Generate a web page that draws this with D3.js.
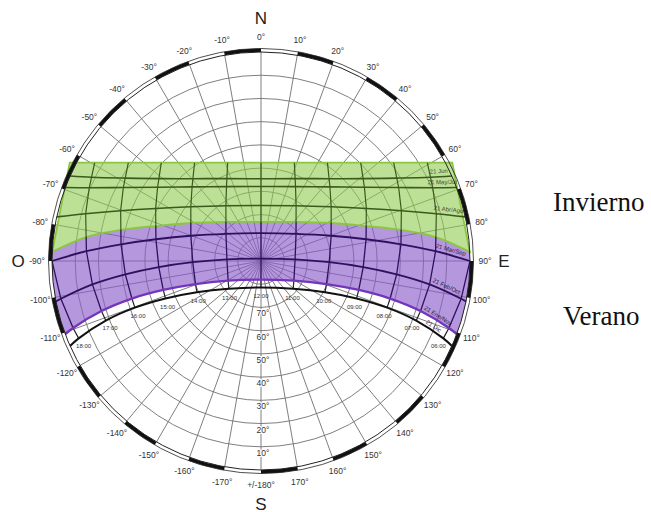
<!DOCTYPE html>
<html>
<head>
<meta charset="utf-8">
<script src="https://cdn.jsdelivr.net/npm/d3@7"></script>
<style>
  html, body { margin: 0; background: #fff; }
  svg { display: block; }
</style>
</head>
<body>
<svg id="chart" width="651" height="512"></svg>
<script>
// ---- data -------------------------------------------------------------
const hours = ["06:00","07:00","08:00","09:00","10:00","11:00","12:00",
               "13:00","14:00","15:00","16:00","17:00","18:00"];
const dateLabels = ["21 Jun","21 May/Jul","21 Abr/Ago","21 Mar/Sep",
                    "21 Feb/Oct","21 Ene/Nov","21 Dic"];

// Sun azimuth (deg from N, + towards E) and altitude (deg) at each hour; null = below horizon
const azJun   = [null, 63.7, 58.6, 51.1, 39.6, 22.5, 0, -22.5, -39.6, -51.1, -58.6, -63.7, null];
const altJun  = [null, 8.6, 21.5, 33.5, 44.0, 51.6, 54.6, 51.6, 44.0, 33.5, 21.5, 8.6, null];
const azMay   = [null, 66.9, 61.9, 54.5, 42.9, 24.9, 0, -24.9, -42.9, -54.5, -61.9, -66.9, null];
const altMay  = [null, 9.6, 22.8, 35.3, 46.4, 54.7, 57.9, 54.7, 46.4, 35.3, 22.8, 9.6, null];
const azAbr   = [null, 74.9, 70.3, 63.5, 52.3, 32.4, 0, -32.4, -52.3, -63.5, -70.3, -74.9, null];
const altAbr  = [null, 11.8, 25.8, 39.3, 51.8, 61.8, 66.1, 61.8, 51.8, 39.3, 25.8, 11.8, null];
const azMar   = [90.0, 86.8, 83.2, 78.3, 70.2, 52.2, 0, -52.2, -70.2, -78.3, -83.2, -86.8, -90.0];
const altMar  = [0.0, 14.7, 29.3, 43.8, 57.9, 70.9, 78.0, 70.9, 57.9, 43.8, 29.3, 14.7, 0.0];
const azFeb   = [100.7, 97.9, 95.6, 93.4, 91.0, 87.2, 0, -87.2, -91.0, -93.4, -95.6, -97.9, -100.7];
const altFeb  = [2.3, 16.7, 31.3, 45.9, 60.6, 75.3, 89.0, 75.3, 60.6, 45.9, 31.3, 16.7, 2.3];
const azEne   = [109.6, 107.4, 106.2, 106.5, 109.4, 120.9, 180, -120.9, -109.4, -106.5, -106.2, -107.4, -109.6];
const altEne  = [4.1, 18.0, 32.1, 46.1, 60.1, 73.5, 82.0, 73.5, 60.1, 46.1, 32.1, 18.0, 4.1];
const azDic   = [113.0, 111.0, 110.3, 111.4, 116.0, 130.8, 180, -130.8, -116.0, -111.4, -110.3, -111.0, -113.0];
const altDic  = [4.7, 18.4, 32.1, 45.8, 59.3, 71.7, 78.6, 71.7, 59.3, 45.8, 32.1, 18.4, 4.7];

// Sunrise / sunset azimuths for each date
const riseAz = [66.0, 69.4, 77.8, 90.0, 101.2, 110.5, 114.0];
const setAz  = [-66.0, -69.4, -77.8, -90.0, -101.2, -110.5, -114.0];

// Winter band: top edge corners, and the winter/summer boundary (E -> W)
const winterTopAz  = [-62.8, 62.8];
const winterTopAlt = [-2.6, -2.6];
const bandEdgeAz   = [87.5, 82.2, 77.5, 71.6, 61.5, 41.9, 0, -41.9, -61.5, -71.6, -77.5, -82.2, -87.5];
const bandEdgeAlt  = [0, 14.0, 28.2, 42.3, 55.7, 67.4, 73.2, 67.4, 55.7, 42.3, 28.2, 14.0, 0];

// Grid
const azTicks  = d3.range(-170, 190, 10);          // -170 ... 180
const altRings = [10, 20, 30, 40, 50, 60, 70, 80];
const altTickLabels = [10, 20, 30, 40, 50, 60, 70];
const cardinals = [{t: "N", az: 0}, {t: "E", az: 90}, {t: "S", az: 180}, {t: "O", az: -90}];
const seasons = [{t: "Invierno", x: 553, y: 211}, {t: "Verano", x: 563, y: 325}];

// ---- layout -----------------------------------------------------------
const svg = d3.select("#chart");
const cx = 261, cy = 261, R = 209;
const alt2r  = d3.scaleLinear().domain([90, 0]).range([0, R]);
const az2rad = d3.scaleLinear().domain([0, 360]).range([0, 2 * Math.PI]);
const proj = (az, alt) => {
  const r = alt2r(alt), a = az2rad(az);
  return [cx + r * Math.sin(a), cy - r * Math.cos(a)];
};

const dates = dateLabels.map((label, i) => ({
  label,
  az:  [azJun, azMay, azAbr, azMar, azFeb, azEne, azDic][i],
  alt: [altJun, altMay, altAbr, altMar, altFeb, altEne, altDic][i],
  rise: riseAz[i], set: setAz[i]
}));

const lineLin = d3.line();
const lineCR  = d3.line().curve(d3.curveCatmullRom.alpha(0.5));
const cont = s => s.replace(/^M/, "L");
const rimArc = (a0, a1) => {
  const n = Math.max(1, Math.ceil(Math.abs(a1 - a0)));
  return d3.range(n + 1).map(i => proj(a0 + (a1 - a0) * i / n, 0));
};
function pathPoints(d) {
  const pts = [proj(d.rise, 0)];
  d.az.forEach((a, k) => { if (a !== null && d.alt[k] > 0) pts.push(proj(a, d.alt[k])); });
  pts.push(proj(d.set, 0));
  return pts;
}

const FONT = "'Liberation Sans', Arial, sans-serif";

// ---- polar grid -------------------------------------------------------
const grid = svg.append("g").attr("fill", "none").attr("stroke", "#707070").attr("stroke-width", 0.9);
grid.selectAll("circle").data(altRings).join("circle")
  .attr("cx", cx).attr("cy", cy).attr("r", d => alt2r(d));
grid.selectAll("line").data(azTicks).join("line")
  .attr("x1", d => proj(d, 90)[0]).attr("y1", d => proj(d, 90)[1])
  .attr("x2", d => proj(d, 0)[0]).attr("y2", d => proj(d, 0)[1]);

// ---- seasonal bands ---------------------------------------------------
const edgeEW = bandEdgeAz.map((a, i) => proj(a, bandEdgeAlt[i]));
const edgeWE = edgeEW.slice().reverse();
const TL = proj(winterTopAz[0], winterTopAlt[0]);
const TR = proj(winterTopAz[1], winterTopAlt[1]);
const winterD = lineLin([TL, TR, edgeEW[0]]) + cont(lineCR(edgeEW)) + "Z";

const janPts = pathPoints(dates[5]);
const summerD = lineCR(edgeWE)
  + cont(lineLin(rimArc(bandEdgeAz[0], riseAz[5])))
  + cont(lineCR(janPts))
  + cont(lineLin(rimArc(setAz[5], bandEdgeAz[bandEdgeAz.length - 1])))
  + "Z";

const defs = svg.append("defs");
defs.append("clipPath").attr("id", "clipWinter").append("path").attr("d", winterD);
defs.append("clipPath").attr("id", "clipSummer").append("path").attr("d", summerD);

svg.append("path").attr("d", summerD)
  .attr("fill", "#8a5cc8").attr("fill-opacity", 0.64).attr("stroke", "none");
svg.append("path").attr("d", winterD)
  .attr("fill", "#8fcc4f").attr("fill-opacity", 0.6)
  .attr("stroke", "#8cc63f").attr("stroke-width", 1.8);

// ---- hour lines -------------------------------------------------------
const hourG = svg.append("g").attr("fill", "none");
hours.forEach((h, k) => {
  const pts = dates.slice(0, 6).filter(d => d.az[k] !== null).map(d => proj(d.az[k], d.alt[k]));
  if (dates[0].az[k] !== null) {
    const p1 = pts[0], p2 = pts[1];
    const dx = p1[0] - p2[0], dy = p1[1] - p2[1], L = Math.hypot(dx, dy);
    pts.unshift([p1[0] + dx / L * 40, p1[1] + dy / L * 40]);
  }
  const d = lineLin(pts);
  hourG.append("path").attr("d", d).attr("clip-path", "url(#clipWinter)")
    .attr("stroke", "#3b5a1c").attr("stroke-width", 1.2);
  hourG.append("path").attr("d", d).attr("clip-path", "url(#clipSummer)")
    .attr("stroke", "#2f1060").attr("stroke-width", 1.3);
  const e = dates[5], f = dates[6];
  hourG.append("path").attr("d", lineLin([proj(e.az[k], e.alt[k]), proj(f.az[k], f.alt[k])]))
    .attr("stroke", "#222").attr("stroke-width", 1.2);
});

// ---- sun paths --------------------------------------------------------
const pathStyle = [
  {c: "#3b5a1c", w: 1.6}, {c: "#3b5a1c", w: 1.6}, {c: "#3b5a1c", w: 1.6},
  {c: "#2f1060", w: 1.8}, {c: "#2f1060", w: 1.8},
  {c: "#7435bd", w: 2.4}, {c: "#111111", w: 2.0}
];
svg.append("g").attr("fill", "none").selectAll("path").data(dates).join("path")
  .attr("d", d => lineCR(pathPoints(d)))
  .attr("stroke", (d, i) => pathStyle[i].c)
  .attr("stroke-width", (d, i) => pathStyle[i].w);

// date labels near the sunrise end of each path
const dateG = svg.append("g").attr("font-family", FONT).attr("font-size", 6);
dates.forEach((d, i) => {
  const a = proj(d.az[1], d.alt[1]), b = proj(d.rise, 0);
  const t = 0.4, px = a[0] + (b[0] - a[0]) * t, py = a[1] + (b[1] - a[1]) * t;
  const dx = b[0] - a[0], dy = b[1] - a[1], L = Math.hypot(dx, dy);
  const ox = dy / L * 3.5, oy = -dx / L * 3.5;
  const ang = Math.atan2(dy, dx) * 180 / Math.PI;
  dateG.append("text").attr("text-anchor", "middle")
    .attr("transform", `translate(${px + ox},${py + oy}) rotate(${ang})`)
    .attr("fill", i < 3 ? "#3f4a33" : "#2a1745").text(d.label);
});

// hour labels below the 21 Dic path
const dic = dates[6];
const dicPts = hours.map((h, k) => proj(dic.az[k], dic.alt[k]));
svg.append("g").attr("font-family", FONT).attr("font-size", 6).attr("fill", "#333")
  .selectAll("text").data(hours).join("text")
  .attr("text-anchor", "middle").attr("dominant-baseline", "central")
  .attr("x", (h, k) => {
    const p = dicPts[Math.max(0, k - 1)], n = dicPts[Math.min(hours.length - 1, k + 1)];
    const tx = n[0] - p[0], ty = n[1] - p[1], L = Math.hypot(tx, ty);
    return dicPts[k][0] + ty / L * 9;
  })
  .attr("y", (h, k) => {
    const p = dicPts[Math.max(0, k - 1)], n = dicPts[Math.min(hours.length - 1, k + 1)];
    const tx = n[0] - p[0], ty = n[1] - p[1], L = Math.hypot(tx, ty);
    return dicPts[k][1] - tx / L * 9;
  })
  .text(h => h);

// ---- rim ---------------------------------------------------------------
const rim = svg.append("g");
const ringArc = d3.arc().innerRadius(R).outerRadius(R + 3.5);
rim.selectAll("path").data(azTicks.filter(a => Math.floor(a / 10) % 2 !== 0)).join("path")
  .attr("transform", `translate(${cx},${cy})`)
  .attr("d", a => ringArc({startAngle: az2rad(a), endAngle: az2rad(a + 10)}))
  .attr("fill", "#111");
rim.append("circle").attr("cx", cx).attr("cy", cy).attr("r", R)
  .attr("fill", "none").attr("stroke", "#222").attr("stroke-width", 1);
rim.append("circle").attr("cx", cx).attr("cy", cy).attr("r", R + 3.5)
  .attr("fill", "none").attr("stroke", "#222").attr("stroke-width", 0.8);

// ---- labels -------------------------------------------------------------
const lab = svg.append("g").attr("font-family", FONT).attr("fill", "#333");
lab.selectAll("text.az").data(azTicks).join("text").attr("class", "az")
  .attr("font-size", 8.5).attr("text-anchor", "middle").attr("dominant-baseline", "central")
  .attr("x", a => cx + (R + 15) * Math.sin(az2rad(a)))
  .attr("y", a => cy - (R + 15) * Math.cos(az2rad(a)))
  .text(a => a === 180 ? "+/-180°" : a + "°");

lab.selectAll("text.alt").data(altTickLabels).join("text").attr("class", "alt")
  .attr("font-size", 8.5).attr("text-anchor", "middle").attr("dominant-baseline", "central")
  .attr("x", cx + 2).attr("y", a => cy + alt2r(a) + 6)
  .attr("stroke", "#fff").attr("stroke-width", 2.2).attr("paint-order", "stroke")
  .text(a => a + "°");

lab.selectAll("text.card").data(cardinals).join("text").attr("class", "card")
  .attr("font-size", 17).attr("fill", "#222").attr("text-anchor", "middle")
  .attr("dominant-baseline", "central")
  .attr("x", d => cx + (R + 34) * Math.sin(az2rad(d.az)))
  .attr("y", d => cy - (R + 34) * Math.cos(az2rad(d.az)))
  .text(d => d.t);

svg.append("g").attr("font-family", "'Liberation Serif', 'Times New Roman', serif")
  .attr("font-size", 27).attr("fill", "#111")
  .selectAll("text").data(seasons).join("text")
  .attr("x", d => d.x).attr("y", d => d.y).text(d => d.t);
</script>
</body>
</html>
